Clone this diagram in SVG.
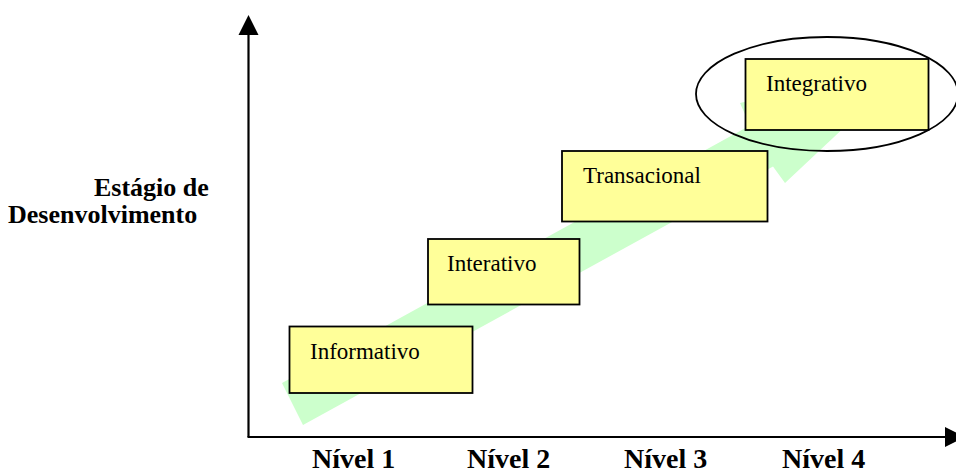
<svg xmlns="http://www.w3.org/2000/svg" width="956" height="475" viewBox="0 0 956 475">
<style>
.box{fill:#FFFF99;stroke:#000;stroke-width:1.8}
.t{font-size:23px;fill:#000}
.b{font-weight:bold;fill:#000}
.axis{stroke:#000;stroke-width:2.2;fill:none}
</style>
<rect width="956" height="475" fill="#fff"/>
<g id="trend-arrow">
<polygon points="303,425 773,166.5 785,183 915,61 740,103 750,125.5 282,383" fill="#CCFFCC"/>
</g>
<g id="connectors">
<line class="axis" x1="248.5" y1="437" x2="248.5" y2="34"/>
<polygon points="248.5,15 238.5,35 258.5,35" fill="#000"/>
<line class="axis" x1="247.5" y1="437" x2="946" y2="437"/>
<polygon points="965,437 945,427 945,447" fill="#000"/>
</g>
<g font-family="'Liberation Serif', 'DejaVu Serif', serif">
<g id="y-label">
<text class="b" font-size="26" x="94" y="196">Estágio de</text>
<text class="b" font-size="26" x="8" y="223">Desenvolvimento</text>
</g>
<g id="x-labels">
<text class="b" font-size="28" x="312" y="468">Nível 1</text>
<text class="b" font-size="28" x="467" y="468">Nível 2</text>
<text class="b" font-size="28" x="624" y="468">Nível 3</text>
<text class="b" font-size="28" x="782" y="468">Nível 4</text>
</g>
<g id="node-informativo">
<rect class="box" x="289.5" y="326.5" width="183" height="66.5"/>
<text class="t" x="310" y="359">Informativo</text>
</g>
<g id="node-interativo">
<rect class="box" x="428" y="239" width="151.5" height="65.5"/>
<text class="t" x="447" y="271">Interativo</text>
</g>
<g id="node-transacional">
<rect class="box" x="562" y="151" width="205.5" height="70.5"/>
<text class="t" x="583" y="183">Transacional</text>
</g>
<g id="node-integrativo">
<rect class="box" x="745.5" y="59" width="183" height="71"/>
<text class="t" x="766" y="91">Integrativo</text>
</g>
</g>
<g id="highlight-ellipse">
<ellipse cx="827" cy="94" rx="131" ry="57" fill="none" stroke="#000" stroke-width="1.8"/>
</g>
</svg>
